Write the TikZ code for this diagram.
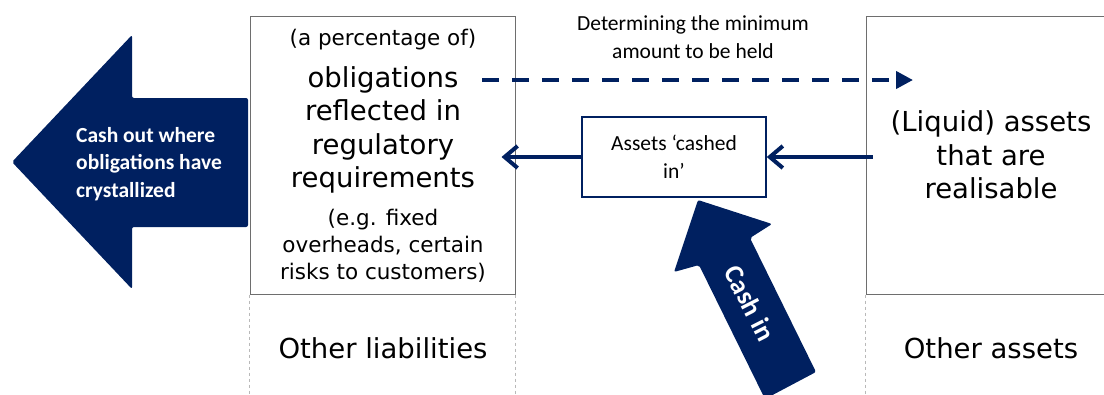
\documentclass[tikz,border=0pt]{standalone}
\usepackage{fontspec}
\usetikzlibrary{arrows.meta}
\newfontfamily\vfont{DejaVu Sans}
\newfontfamily\cfont{Carlito}
\definecolor{navy}{HTML}{002060}
\definecolor{framegray}{HTML}{6E6E6E}
\begin{document}
\begin{tikzpicture}[x=1pt,y=-1pt,
    big/.style={font=\vfont\fontsize{27.5}{33.5}\selectfont,align=center,inner sep=0pt},
    small/.style={font=\vfont\fontsize{21.5}{27}\selectfont,align=center,inner sep=0pt},
    note/.style={font=\cfont\fontsize{21.5}{28}\selectfont,align=center,inner sep=0pt},
    label/.style={font=\cfont\bfseries\fontsize{21.5}{27.5}\selectfont,text=white,inner sep=0pt},
    column/.style={draw=framegray,line width=1pt,minimum width=265pt,minimum height=278pt},
    guide/.style={draw=gray!55,line width=0.8pt,dash pattern=on 3pt off 3pt},
    flow/.style={draw=navy,line width=4pt,-{Straight Barb[length=13pt,width=22pt]}},
    limit/.style={draw=navy,line width=4pt,dash pattern=on 17pt off 13pt,-{Triangle[length=17pt,width=17pt]}},
    fat/.style={fill=navy,rounded corners=2pt}]
  \useasboundingbox (0,0) rectangle (1104,394);
  \clip (0,0) rectangle (1104,394);
  \node[column] (liab) at (382.5,155) {};
  \node[column,big,minimum width=250pt] (liq) at (991,155) {(Liquid) assets\\that are\\realisable};
  \draw[guide] (liab.south west) -- ++(0,100);
  \draw[guide] (liab.south east) -- ++(0,100);
  \draw[guide] (liq.south west) -- ++(0,100);
  \node[small] (pct) at (383,40) {(a percentage of)};
  \node[big] (oblig) at (383,130) {obligations\\reflected in\\regulatory\\requirements};
  \node[small] (eg) at (383,246) {(e.g. fixed\\overheads, certain\\risks to customers)};
  \node[big] (otherl) at (383,348) {Other liabilities};
  \node[big] (othera) at (991,348) {Other assets};
  \node[note] (minimum) at (693,37) {Determining the minimum\\amount to be held};
  \node[note,draw=navy,line width=1.5pt,minimum width=184pt,minimum height=80pt] (cashed) at (674,157) {Assets ‘cashed\\in’};
  \coordinate (held) at (482,80);
  \coordinate (target) at (913,80);
  \begin{scope}
    \draw[limit] (held) -- (target);
    \draw[flow] ([xshift=7pt]liq.west |- cashed.east) -- (cashed.east);
    \draw[flow] (cashed.west) -- ([xshift=-14pt]liab.east |- cashed.west);
  \end{scope}
  \fill[fat] (12,162) -- (132,35) -- (132,98) -- (248,98) -- (248,227)
    -- (132,227) -- (132,289) -- cycle;
  \node[label,align=left,anchor=west] (cashout) at (76,164) {Cash out where\\obligations have\\crystallized};
  \fill[fat] (698,200) -- (772,224) -- (750,238) -- (816,372) -- (765,399)
    -- (699,265) -- (674,272) -- cycle;
  \node[label,font=\cfont\bfseries\fontsize{27}{30}\selectfont,rotate=-63] (cashin) at (750,303) {Cash in};
\end{tikzpicture}
\end{document}
